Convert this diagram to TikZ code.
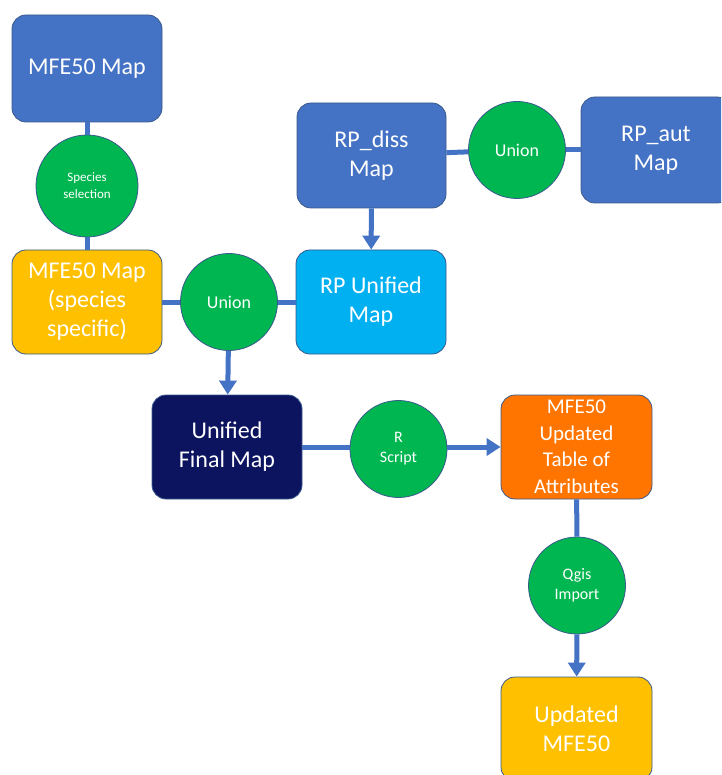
\documentclass[tikz,border=0pt]{standalone}
\usepackage{fontspec}
\setmainfont{Carlito}
\usetikzlibrary{arrows.meta}
\definecolor{mblue}{HTML}{4472C4}
\definecolor{myellow}{HTML}{FFC000}
\definecolor{lblue}{HTML}{00B0F0}
\definecolor{navy}{HTML}{0C1460}
\definecolor{morange}{HTML}{FF7500}
\definecolor{mgreen}{HTML}{00B650}
\definecolor{edge}{HTML}{3A5A8C}
\tikzset{
  box/.style={rectangle, rounded corners=14pt, draw=edge, line width=0.8pt,
    minimum width=150pt, minimum height=104pt, text=white, align=center,
    inner sep=2pt, font=\fontsize{24}{29}\selectfont},
  op/.style={circle, draw=edge, line width=0.8pt, fill=mgreen, text=white,
    align=center, inner sep=0pt, minimum size=97pt},
  conn/.style={draw=mblue, line width=5pt},
  arr/.style={conn, -{Triangle[width=17pt,length=14pt]}}
}
\begin{document}
\begin{tikzpicture}[x=1pt,y=-1pt]
\useasboundingbox (0,0) rectangle (721,775);
\begin{scope}
\clip (0,0) rectangle (721,775);
% nodes
\node[box, fill=mblue, minimum height=107pt] (mfe) at (87,68.5) {MFE50 Map};
\node[op, minimum size=102pt, font=\fontsize{13}{17}\selectfont] (sp) at (87,186) {Species\\selection};
\node[box, fill=myellow] (mfes) at (87,302) {MFE50 Map\\(species\\specific)};
\node[op, font=\fontsize{18}{22}\selectfont] (u1) at (229,302) {Union};
\node[box, fill=lblue] (rpu) at (371,302) {RP Unified\\Map};
\node[box, fill=mblue, minimum width=149pt, minimum height=105pt] (rpd) at (371.5,155.5) {RP\_diss\\Map};
\node[op, font=\fontsize{18}{22}\selectfont] (u2) at (517,150) {Union};
\node[box, fill=mblue, minimum height=106pt] (rpa) at (656,150) {RP\_aut\\Map};
\node[box, fill=navy] (ufm) at (227,447) {Unified\\Final Map};
\node[op, font=\fontsize{16}{20}\selectfont] (rs) at (398.5,449) {R\\Script};
\node[box, fill=morange, minimum width=151pt, font=\fontsize{21}{26.5}\selectfont] (tab) at (576.5,447) {MFE50\\Updated\\Table of\\Attributes};
\node[op, font=\fontsize{16}{20}\selectfont] (qi) at (577,585.5) {Qgis\\Import};
\node[box, fill=myellow, minimum width=151pt] (umfe) at (576.5,729) {Updated\\MFE50};
% connectors
\draw[conn] (mfe) -- (sp);
\draw[conn] (sp) -- (mfes);
\draw[conn] (mfes) -- (u1);
\draw[conn] (u1) -- (rpu);
\draw[arr] (u1) -- (ufm);
\draw[arr] (rpd) -- (rpu);
\draw[conn] (rpd) -- (u2);
\draw[conn] (u2) -- (rpa);
\draw[conn] (ufm.east) -- (ufm.east -| rs.west);
\draw[arr] (rs.east |- tab.west) -- (tab.west);
\draw[conn] (tab) -- (qi);
\draw[arr] (qi) -- (umfe);
\end{scope}
\end{tikzpicture}
\end{document}
